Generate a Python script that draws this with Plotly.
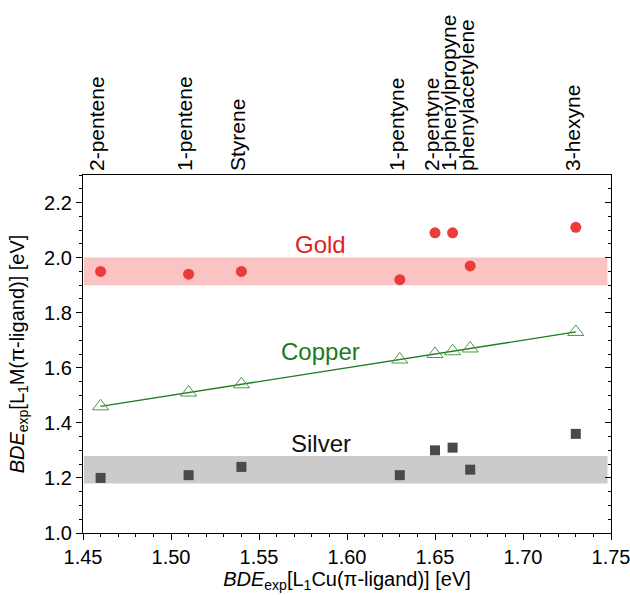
import plotly.graph_objects as go

ligands = ["2-pentene", "1-pentene", "Styrene", "1-pentyne", "2-pentyne",
           "1-phenylpropyne", "phenylacetylene", "3-hexyne"]
bde_cu = [1.46, 1.51, 1.54, 1.63, 1.65, 1.66, 1.67, 1.73]
gold = [1.95, 1.94, 1.95, 1.92, 2.09, 2.09, 1.97, 2.11]
copper = [1.46, 1.51, 1.54, 1.63, 1.65, 1.66, 1.67, 1.73]
silver = [1.20, 1.21, 1.24, 1.21, 1.30, 1.31, 1.23, 1.36]
gold_band = [1.90, 2.00]
silver_band = [1.18, 1.28]
x_ticks = [1.45, 1.50, 1.55, 1.60, 1.65, 1.70, 1.75]
y_ticks = [1.0, 1.2, 1.4, 1.6, 1.8, 2.0, 2.2]

FONT = "Liberation Sans"

fig = go.Figure()

fig.add_shape(type="rect", xref="x", yref="y", x0=1.4505, x1=1.748,
              y0=gold_band[0], y1=gold_band[1], fillcolor="#fbc3c3",
              line_width=0, layer="below")
fig.add_shape(type="rect", xref="x", yref="y", x0=1.4505, x1=1.748,
              y0=silver_band[0], y1=silver_band[1], fillcolor="#cbcbcb",
              line_width=0, layer="below")

fig.add_trace(go.Scatter(x=bde_cu, y=gold, mode="markers", name="Gold",
                         marker=dict(symbol="circle", size=11, color="#eb3b3b")))
fig.add_trace(go.Scatter(x=bde_cu, y=copper, mode="lines+markers", name="Copper",
                         line=dict(color="#1e7d1e", width=1.3),
                         marker=dict(symbol="triangle-up-open", size=14,
                                     color="#4c9a4c", line=dict(width=1))))
fig.add_trace(go.Scatter(x=bde_cu, y=silver, mode="markers", name="Silver",
                         marker=dict(symbol="square", size=10, color="#4a4a4a")))

# invisible traces to anchor the top and right axes
fig.add_trace(go.Scatter(x=bde_cu, y=copper, xaxis="x2", mode="markers",
                         marker=dict(opacity=0), hoverinfo="skip", showlegend=False))
fig.add_trace(go.Scatter(x=bde_cu, y=copper, yaxis="y2", mode="markers",
                         marker=dict(opacity=0), hoverinfo="skip", showlegend=False))

fig.add_annotation(x=1.585, y=2.047, text="Gold", showarrow=False,
                   font=dict(size=24, color="#e32020", family=FONT))
fig.add_annotation(x=1.585, y=1.658, text="Copper", showarrow=False,
                   font=dict(size=24, color="#1a7a1a", family=FONT))
fig.add_annotation(x=1.585, y=1.324, text="Silver", showarrow=False,
                   font=dict(size=24, color="#111111", family=FONT))

fig.update_layout(
    width=630, height=595,
    margin=dict(l=83, r=19, t=175, b=62),
    plot_bgcolor="white", paper_bgcolor="white",
    showlegend=False,
    font=dict(family=FONT, size=20, color="black"),
    xaxis=dict(range=[1.45, 1.75], tickvals=x_ticks,
               ticktext=[f"{v:.2f}" for v in x_ticks],
               ticks="outside", ticklen=6, tickwidth=1.2, tickcolor="black",
               showline=True, linecolor="black", linewidth=1.2, mirror=True,
               showgrid=False, zeroline=False, automargin=False,
               ticklabeloverflow="allow",
               minor=dict(dtick=0.01, ticks="outside", ticklen=3, tickcolor="black", tickwidth=1),
               title=dict(text="<i>BDE</i><sub>exp</sub>[L<sub>1</sub>Cu(π-ligand)] [eV]",
                          font=dict(size=20), standoff=0),
               tickfont=dict(size=20)),
    xaxis2=dict(range=[1.45, 1.75], overlaying="x", side="top", anchor="y",
                tickvals=bde_cu, ticktext=ligands, tickangle=-90, ticks="",
                showline=False, showgrid=False, zeroline=False, automargin=False,
                ticklabeloverflow="allow", ticklabelstandoff=3, ticklabelshift=-3,
                tickfont=dict(size=21)),
    yaxis=dict(range=[1.0, 2.3], tickvals=y_ticks,
               ticktext=[f"{v:.1f}" for v in y_ticks],
               ticks="outside", ticklen=6, tickwidth=1.2, tickcolor="black",
               showline=True, linecolor="black", linewidth=1.2, mirror=True,
               showgrid=False, zeroline=False, automargin=False,
               ticklabeloverflow="allow",
               minor=dict(dtick=0.05, ticks="outside", ticklen=3, tickcolor="black", tickwidth=1),
               title=dict(text="<i>BDE</i><sub>exp</sub>[L<sub>1</sub>M(π-ligand)] [eV]",
                          font=dict(size=20), standoff=14),
               tickfont=dict(size=20)),
    yaxis2=dict(range=[1.0, 2.3], overlaying="y", side="right", anchor="x",
                tickvals=y_ticks, showticklabels=False,
                ticks="inside", ticklen=6, tickwidth=1.2, tickcolor="black",
                showline=False, showgrid=False, zeroline=False, automargin=False,
                minor=dict(dtick=0.05, ticks="inside", ticklen=3, tickcolor="black", tickwidth=1)),
)

fig.write_html("out.html")
